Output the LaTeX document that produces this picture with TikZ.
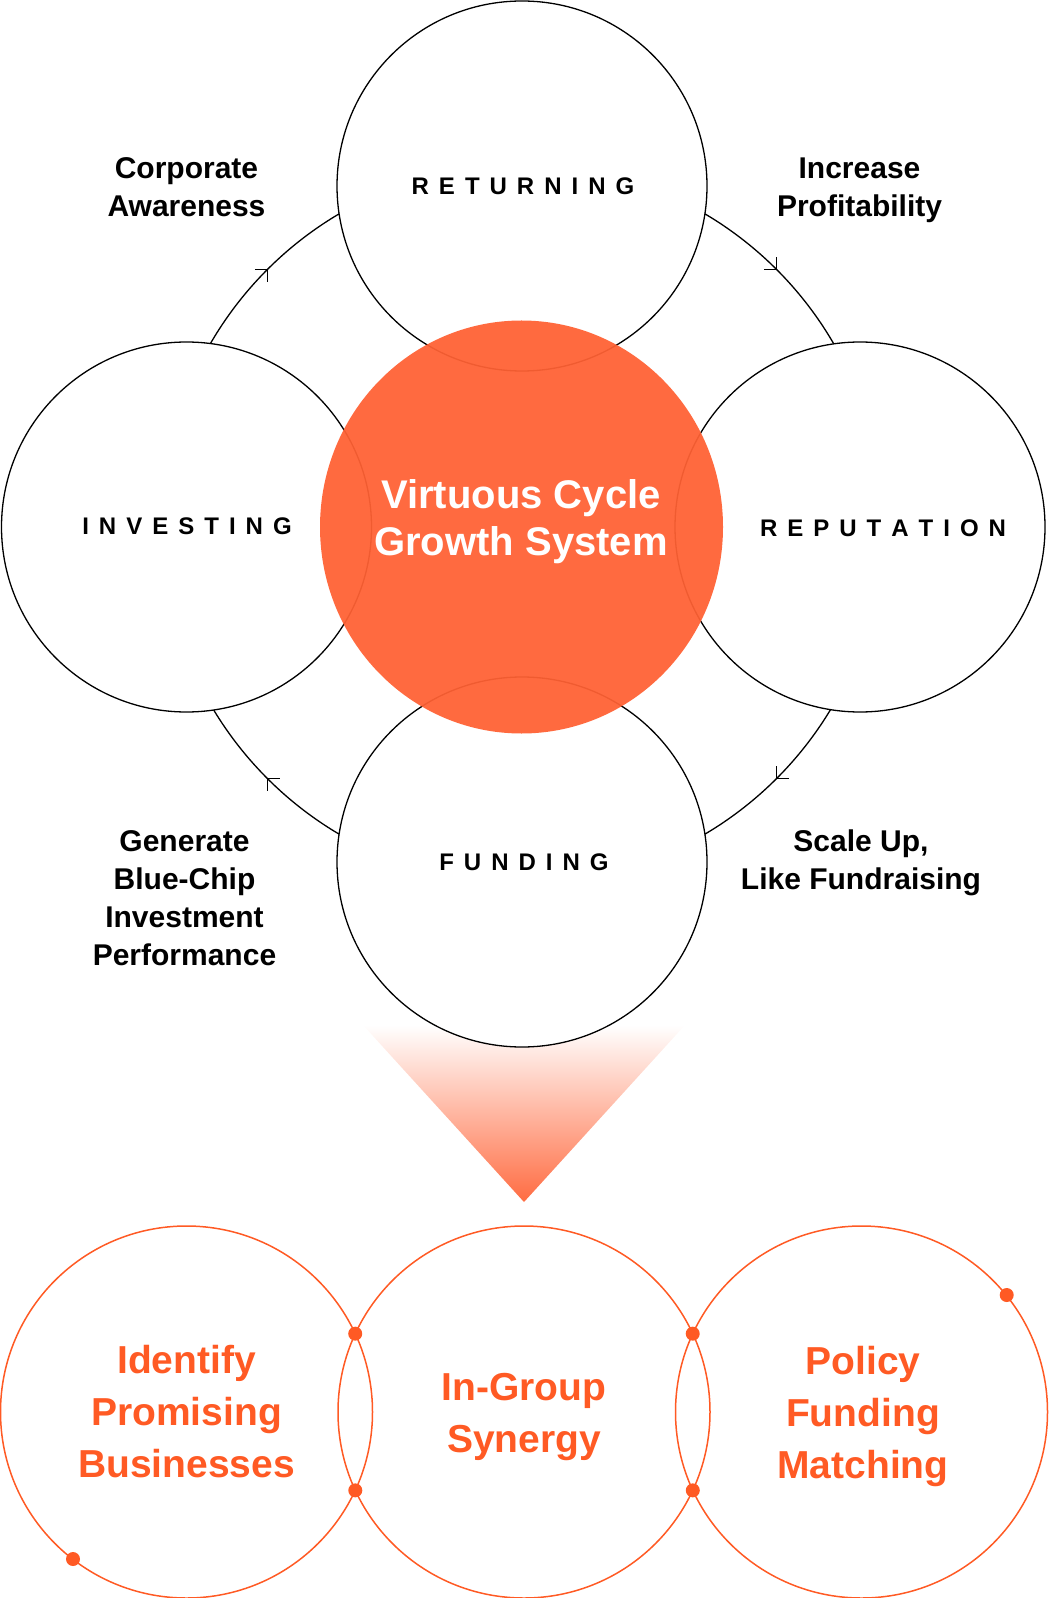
\documentclass[tikz,border=0pt]{standalone}
\usepackage{fontspec}
\setmainfont{Liberation Sans}
\usetikzlibrary{intersections}
\definecolor{hot}{RGB}{255,97,52}
\definecolor{ring}{RGB}{255,90,36}
\definecolor{tri}{RGB}{255,108,66}
\newcommand\spc{\kern5pt}
\begin{document}
\begin{tikzpicture}[x=0.5pt,y=-0.5pt,
  sat/.style={circle, draw=black, line width=0.65pt, fill=white, minimum size=185pt, inner sep=0},
  lbl/.style={align=center, font=\bfseries\fontsize{15}{19}\selectfont, text=black, inner sep=0},
  capword/.style={font=\bfseries\fontsize{12}{14}\selectfont, inner sep=0, text=black},
  hubtext/.style={align=center, font=\bfseries\fontsize{20}{23.5}\selectfont, text=white, inner sep=0},
  ringtext/.style={align=center, font=\bfseries\fontsize{19.5}{26}\selectfont, text=ring, inner sep=0},
  ringline/.style={draw=ring, line width=0.75pt},
  barb/.style={draw=black, line width=0.65pt},
  dot/.style={fill=ring}
]
\useasboundingbox (0,0) rectangle (1048,1598);

% gradient triangle
\shade[top color=white, bottom color=tri] (363,1025) -- (685,1025) -- (524,1202) -- cycle;

% cycle connector
\coordinate (hub) at (522,524);
\draw[line width=0.65pt] (hub) circle[radius=360];

% arrow barbs (clockwise flow)
\coordinate (aTL) at (267.4,269.4);
\coordinate (aTR) at (776.6,269.4);
\coordinate (aBR) at (776.6,778.6);
\coordinate (aBL) at (267.4,778.6);
\draw[barb] (aTL) ++(-12.5,0) -- (aTL) -- ++(0,12.5);
\draw[barb] (aTR) ++(-12.5,0) -- (aTR) -- ++(0,-12.5);
\draw[barb] (aBR) ++(12.5,0) -- (aBR) -- ++(0,-12.5);
\draw[barb] (aBL) ++(12.5,0) -- (aBL) -- ++(0,12.5);

% satellites
\node[sat] (ret) at (522,186) {};
\node[sat] (inv) at (186.5,527) {};
\node[sat] (rep) at (860,527) {};
\node[sat] (fun) at (522,862) {};

% central circle
\coordinate (core) at (521.5,527);
\fill[hot, fill opacity=0.94] (core) ellipse[x radius=201.5, y radius=206.5];
\node[hubtext] (coretxt) at (521,522) {Virtuous Cycle\\Growth System};

% satellite words
\node[capword] (retw) at (523,186) {R\spc E\spc T\spc U\spc R\spc N\spc I\spc N\spc G};
\node[capword] (invw) at (187,526) {I\spc N\spc V\spc E\spc S\spc T\spc I\spc N\spc G};
\node[capword] (repw) at (883,528) {R\spc E\spc P\spc U\spc T\spc A\spc T\spc I\spc O\spc N};
\node[capword] (funw) at (524,862) {F\spc U\spc N\spc D\spc I\spc N\spc G};

% outer labels
\node[lbl] (l1) at (186.5,187) {Corporate\\Awareness};
\node[lbl] (l2) at (859.5,190) {Increase\\Profitability};
\node[lbl] (l3) at (184.5,898) {Generate\\Blue-Chip\\Investment\\Performance};
\node[lbl] (l4) at (861,863) {Scale Up,\\Like Fundraising};

% bottom rings
\coordinate (b1) at (186.5,1412);
\coordinate (b2) at (524,1412);
\coordinate (b3) at (861.5,1412);
\draw[ringline, name path=c1] (b1) circle[radius=186];
\draw[ringline, name path=c2] (b2) circle[radius=186];
\draw[ringline, name path=c3] (b3) circle[radius=186];
\path[name intersections={of=c1 and c2, name=p}];
\path[name intersections={of=c2 and c3, name=q}];
\fill[dot] (p-1) circle[radius=7];
\fill[dot] (p-2) circle[radius=7];
\fill[dot] (q-1) circle[radius=7];
\fill[dot] (q-2) circle[radius=7];
\fill[dot] (73,1559) circle[radius=7];
\fill[dot] (1006.7,1295) circle[radius=7];

\node[ringtext] (t1) at (186.5,1412) {Identify\\Promising\\Businesses};
\node[ringtext] (t2) at (524,1417) {In-Group\\Synergy};
\node[ringtext] (t3) at (863,1416) {Policy\\Funding\\Matching};
\end{tikzpicture}
\end{document}
